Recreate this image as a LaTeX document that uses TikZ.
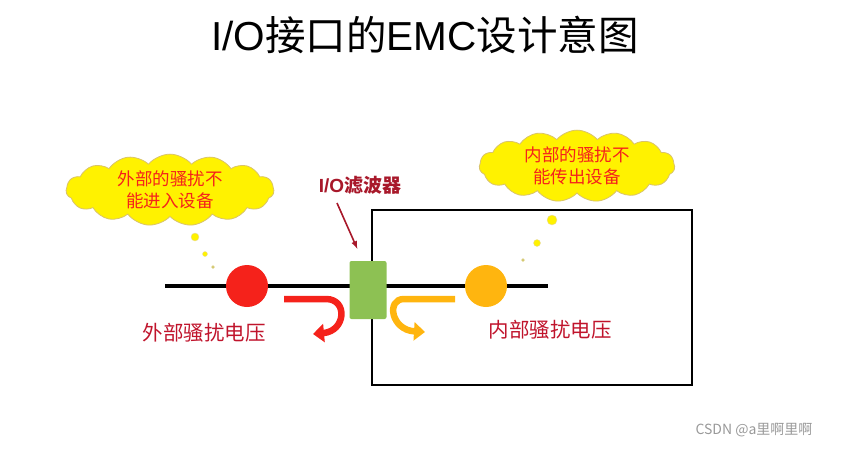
\documentclass[tikz,border=0pt]{standalone}
\usepackage{fontspec}
\setmainfont{Liberation Sans}
\newfontfamily\cjk{Noto Sans CJK SC}
\usetikzlibrary{shapes.symbols, arrows.meta, calc}
\definecolor{cloudyellow}{HTML}{FFF200}
\definecolor{cloudedge}{HTML}{D9C36A}
\definecolor{hotred}{HTML}{F5221B}
\definecolor{warmorange}{HTML}{FFB50F}
\definecolor{filtergreen}{HTML}{8DC153}
\definecolor{labelred}{HTML}{C0142C}
\definecolor{darkred}{HTML}{A8182A}

\begin{document}
\begin{tikzpicture}[x=1pt,y=-1pt,>=latex,
    cloudbox/.style={cloud, cloud puffs=15, cloud puff arc=100, aspect=3.6,
        fill=cloudyellow, draw=cloudedge, line width=0.8pt, inner sep=0pt,
        text=hotred, align=center, font=\cjk\fontsize{17.5}{22}\selectfont},
    bubble/.style={circle, fill=cloudyellow, draw=cloudedge!60, line width=0.4pt, inner sep=0pt},
    voltage/.style={text=labelred, font=\cjk\fontsize{20.5}{24}\selectfont},
    turnarrow/.style={line width=6.5pt, -{Triangle[width=18pt,length=11pt]}}]
            \useasboundingbox (0,0) rectangle (848,448);

            % title
            \node (title) at (425,35) {\fontsize{40.5}{44}\selectfont I/O{\cjk 接口的}EMC{\cjk 设计意图}};

            % device box
            \draw[line width=1.8pt] (372,210) rectangle (692,385);

            % the signal line
            \coordinate (lineL) at (165,286);
            \coordinate (lineR) at (548,286);
            \draw[line width=4pt] (lineL) -- (lineR);

            % sources of the disturbance
            \node[circle, fill=hotred, minimum size=42pt, inner sep=0pt] (extsrc) at (247,286) {};
            \node[circle, fill=warmorange, minimum size=42pt, inner sep=0pt] (intsrc) at (486,286) {};

            % the filter
            \node[fill=filtergreen, rounded corners=2pt, minimum width=37pt, minimum height=58pt,
                inner sep=0pt] (filter) at (368,290) {};
            \node[text=darkred, font=\bfseries\fontsize{19}{20}\selectfont] (filterlabel) at (360,185) {I/O{\cjk\bfseries 滤波器}};
            \coordinate (ptr) at (337,203);
            \draw[->, darkred, line width=1.6pt] (ptr) -- ($(filter.north west)+(8,-12)$);

            % clouds
            \node[cloudbox, minimum width=208pt, minimum height=62pt] (outcloud) at (170,190) {外部的骚扰不\\能进入设备};
            \node[cloudbox, minimum width=192pt, minimum height=56pt] (incloud) at (577,166) {内部的骚扰不\\能传出设备};

            % thought bubbles
            \node[bubble, minimum size=8pt] (ob1) at (195,237) {};
            \node[bubble, minimum size=5pt] (ob2) at (205,254) {};
            \node[bubble, minimum size=3pt, fill=cloudyellow!50!gray] (ob3) at (213,267) {};
            \node[bubble, minimum size=10pt] (ib1) at (552,220) {};
            \node[bubble, minimum size=7pt] (ib2) at (537,243) {};
            \node[bubble, minimum size=3pt, fill=cloudyellow!50!gray] (ib3) at (523,260) {};

            % turned back disturbance
            \coordinate (redstart) at (284,299);
            \coordinate (redend) at (313,334);
            \draw[turnarrow, hotred] (redstart) -- (326,299) .. controls (348,299) and (346,331) .. (redend);
            \coordinate (orgstart) at (455,299);
            \coordinate (orgend) at (425,332);
            \draw[turnarrow, warmorange] (orgstart) -- (404,299) .. controls (386,299) and (391,330) .. (orgend);

            % voltage labels
            \node[voltage] (extlabel) at (204,333) {外部骚扰电压};
            \node[voltage] (intlabel) at (550,330) {内部骚扰电压};

            % watermark
            \node[text=gray!80, font=\cjk\fontsize{14}{16}\selectfont] (mark) at (754,430) {CSDN @a里啊里啊};
        \end{tikzpicture}
\end{document}
